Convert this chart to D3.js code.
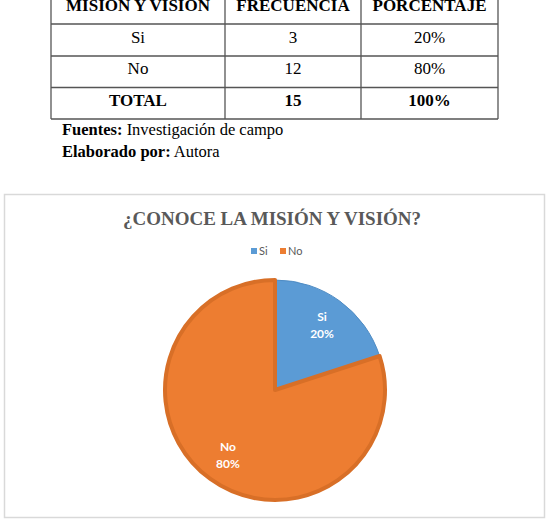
<!DOCTYPE html>
<html>
<head>
<meta charset="utf-8">
<script src="https://cdn.jsdelivr.net/npm/d3@7"></script>
<style>
  body { margin: 0; background: #fff; }
  svg { display: block; }
</style>
</head>
<body>
<svg id="canvas" width="554" height="523"></svg>
<script>
// datos de la tabla y del grafico
let encabezados = ["MISIÓN Y VISIÓN", "FRECUENCIA", "PORCENTAJE"]
let categorias = ["Si", "No"]
let frecuencias = [3, 12]
let porcentajes = ["20%", "80%"]
let total = ["TOTAL", "15", "100%"]
let colores = ["#5b9bd5", "#ed7d31"]
let bordes = ["#4f8cc4", "#d86f27"]

let titulo = "¿CONOCE LA MISIÓN Y VISIÓN?"

let svg = d3.select("#canvas")

// ---- tabla ----
let colX = [51, 225, 361, 498]
let rowY = [-8, 24, 56, 87.5, 119]

let filas = [encabezados]
categorias.forEach((c, i) => filas.push([c, String(frecuencias[i]), porcentajes[i]]))
filas.push(total)

let tabla = svg.append("g")

filas.forEach((fila, r) => {
    let bold = (r === 0 || r === filas.length - 1)
    fila.forEach((t, c) => {
        tabla.append("text")
            .attr("x", (colX[c] + colX[c + 1]) / 2)
            .attr("y", (rowY[r] + rowY[r + 1]) / 2 + 2.5)
            .attr("text-anchor", "middle")
            .style("font-family", "'Liberation Serif', 'Times New Roman', serif")
            .style("font-size", "17px")
            .style("font-weight", bold ? "bold" : "normal")
            .attr("fill", "#000")
            .text(t)
    })
})

rowY.forEach(y => {
    tabla.append("line")
        .attr("x1", colX[0]).attr("x2", colX[3])
        .attr("y1", y).attr("y2", y)
        .attr("stroke", "#555").attr("stroke-width", 1.3)
})
colX.forEach(x => {
    tabla.append("line")
        .attr("x1", x).attr("x2", x)
        .attr("y1", rowY[0]).attr("y2", rowY[4])
        .attr("stroke", "#555").attr("stroke-width", 1.3)
})

let notas = [["Fuentes:", " Investigación de campo"], ["Elaborado por:", " Autora"]]
notas.forEach((n, i) => {
    let t = svg.append("text")
        .attr("x", 62)
        .attr("y", 135 + i * 22)
        .style("font-family", "'Liberation Serif', 'Times New Roman', serif")
        .style("font-size", "16.5px")
        .attr("fill", "#000")
    t.append("tspan").style("font-weight", "bold").text(n[0])
    t.append("tspan").text(n[1])
})

// ---- grafico ----
svg.append("rect")
    .attr("x", 4.5).attr("y", 194.5)
    .attr("width", 540).attr("height", 323)
    .attr("fill", "#fff")
    .attr("stroke", "#d9d9d9")
    .attr("stroke-width", 1.5)

svg.append("text")
    .attr("x", 272)
    .attr("y", 225)
    .attr("text-anchor", "middle")
    .style("font-family", "'Liberation Serif', 'Times New Roman', serif")
    .style("font-size", "19px")
    .style("font-weight", "bold")
    .attr("fill", "#595959")
    .text(titulo)

// leyenda
let leyenda = svg.append("g").attr("transform", "translate(251,251)")
let legX = d3.scalePoint().domain(categorias).range([0, 29])
categorias.forEach((c, i) => {
    let g = leyenda.append("g").attr("transform", "translate(" + legX(c) + ",0)")
    g.append("rect")
        .attr("x", 0).attr("y", -3)
        .attr("width", 6).attr("height", 6)
        .attr("fill", colores[i])
    g.append("text")
        .attr("x", 8).attr("y", 4)
        .style("font-family", "Lato, 'Open Sans', sans-serif")
        .style("font-size", "11px")
        .attr("fill", "#595959")
        .text(c)
})

// pastel
let cx = 275, cy = 390, radio = 110
let pie = d3.pie().sort(null).value(d => d)
let arcos = pie(frecuencias)
let arc = d3.arc().innerRadius(0).outerRadius(radio)
let arcLabel = d3.arc().innerRadius(80).outerRadius(80)

let gPie = svg.append("g").attr("transform", "translate(" + cx + "," + cy + ")")

gPie.selectAll("path").data(arcos)
    .enter()
    .append("path")
    .attr("d", arc)
    .attr("fill", (d, i) => colores[i])
    .attr("stroke", (d, i) => bordes[i])
    .attr("stroke-width", (d, i) => i === 0 ? 1 : 4)
    .attr("stroke-linejoin", "round")

arcos.forEach((d, i) => {
    let p = arcLabel.centroid(d)
    let t = gPie.append("text")
        .attr("x", p[0])
        .attr("y", p[1])
        .attr("text-anchor", "middle")
        .style("font-family", "Lato, 'Open Sans', sans-serif")
        .style("font-size", "12px")
        .style("font-weight", "bold")
        .attr("fill", "#fff")
    t.append("tspan").attr("x", p[0]).attr("dy", "-0.35em").text(categorias[i])
    t.append("tspan").attr("x", p[0]).attr("dy", "1.45em").text(porcentajes[i])
})
</script>
</body>
</html>
